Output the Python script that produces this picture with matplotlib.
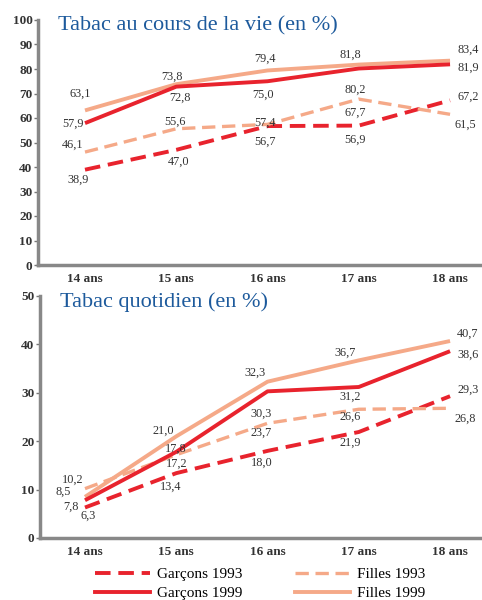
import matplotlib.pyplot as plt
from matplotlib.lines import Line2D

ages = [14, 15, 16, 17, 18]
age_labels = ["14 ans", "15 ans", "16 ans", "17 ans", "18 ans"]

# Tabac au cours de la vie (en %)
vie_garcons_1993 = [38.9, 47.0, 56.7, 56.9, 67.2]
vie_filles_1993 = [46.1, 55.6, 57.4, 67.7, 61.5]
vie_garcons_1999 = [57.9, 72.8, 75.0, 80.2, 81.9]
vie_filles_1999 = [63.1, 73.8, 79.4, 81.8, 83.4]

# Tabac quotidien (en %)
quot_garcons_1993 = [6.3, 13.4, 18.0, 21.9, 29.3]
quot_filles_1993 = [10.2, 17.2, 23.7, 26.6, 26.8]
quot_garcons_1999 = [7.8, 17.8, 30.3, 31.2, 38.6]
quot_filles_1999 = [8.5, 21.0, 32.3, 36.7, 40.7]

RED = "#e8232d"
SALMON = "#f5a988"
TITLE_BLUE = "#1d5a9c"
SERIF = "Liberation Serif"

styles = {
    "g93": dict(color=RED, lw=2.8, ls=(0, (4, 2))),
    "f93": dict(color=SALMON, lw=2.4, ls=(0, (4, 2))),
    "g99": dict(color=RED, lw=2.8, ls="-"),
    "f99": dict(color=SALMON, lw=2.8, ls="-"),
}

# label offsets in pixels (dx, dy) for each point
vie_offsets = {
    "g93": [(-7, -10), (2, -12), (-3, -16), (-4, -14), (18, 4)],
    "f93": [(-12, 7), (-1, 7), (-3, 2), (-4, -14), (15, -10)],
    "g99": [(-12, -1), (4, -11), (-5, -13), (-4, -21), (18, -3)],
    "f99": [(-5, 17), (-4, 7), (-3, 12), (-8, 10), (18, 11)],
}
quot_offsets = {
    "g93": [(3, -8), (-6, -14), (-6, -12), (-9, -11), (18, 6)],
    "f93": [(-12, 9), (0, -9), (-6, -9), (-9, -7), (15, -10)],
    "g99": [(-14, -6), (-1, 3), (-6, -22), (-9, -10), (18, -4)],
    "f99": [(-22, 5), (-13, 6), (-13, 9), (-14, 8), (18, 7)],
}


def draw_panel(ax, series, offsets, ymax, title):
    for key in ["g93", "f93", "f99", "g99"]:
        vals = series[key]
        ax.plot(ages, vals, solid_capstyle="butt", dash_capstyle="butt", **styles[key])
        for x, v, (dx, dy) in zip(ages, vals, offsets[key]):
            ax.annotate(f"{v:.1f}".replace(".", ","), (x, v), xytext=(dx, dy),
                        textcoords="offset pixels", ha="center", va="center",
                        fontsize=8.8, family=SERIF, color="#333333")
    ax.set_ylim(0, ymax)
    ax.set_yticks(range(0, ymax + 1, 10))
    ax.set_xticks(ages)
    ax.set_xticklabels(age_labels)
    for lab in ax.get_xticklabels() + ax.get_yticklabels():
        lab.set_family(SERIF)
        lab.set_fontsize(9.5)
        lab.set_fontweight("bold")
        lab.set_color("#333333")
    ax.tick_params(axis="x", length=0, pad=6)
    ax.tick_params(axis="y", length=3, width=1, color="#777777", pad=1)
    for s in ["top", "right"]:
        ax.spines[s].set_visible(False)
    for s in ["left", "bottom"]:
        ax.spines[s].set_color("#888888")
        ax.spines[s].set_linewidth(2.5)
    ax.text(0.045, 0.975, title, transform=ax.transAxes, ha="left", va="center",
            fontsize=16, family=SERIF, color=TITLE_BLUE)


fig = plt.figure(figsize=(4.82, 6), dpi=100)

ax1 = fig.add_axes([38 / 482, 1 - 265 / 600, 1 - 38 / 482, 245 / 600])
ax1.set_xlim(13.485, 18.35)
draw_panel(ax1, {"g93": vie_garcons_1993, "f93": vie_filles_1993,
                 "g99": vie_garcons_1999, "f99": vie_filles_1999},
           vie_offsets, 100, "Tabac au cours de la vie (en %)")

ax2 = fig.add_axes([40 / 482, 1 - 538 / 600, 1 - 40 / 482, 242 / 600])
ax2.set_xlim(13.507, 18.35)
draw_panel(ax2, {"g93": quot_garcons_1993, "f93": quot_filles_1993,
                 "g99": quot_garcons_1999, "f99": quot_filles_1999},
           quot_offsets, 50, "Tabac quotidien (en %)")

handles = [Line2D([], [], **styles["g93"]), Line2D([], [], **styles["g99"]),
           Line2D([], [], **styles["f93"]), Line2D([], [], **styles["f99"])]
labels = ["Garçons 1993", "Garçons 1999", "Filles 1993", "Filles 1999"]
fig.legend(handles, labels, ncol=2, loc="center", bbox_to_anchor=(0.54, 1 - 584 / 600),
           frameon=False, handlelength=3.6, handletextpad=0.5, columnspacing=3.4,
           labelspacing=0.35, prop={"family": SERIF, "size": 11})

fig.savefig("out.png", dpi=100)
